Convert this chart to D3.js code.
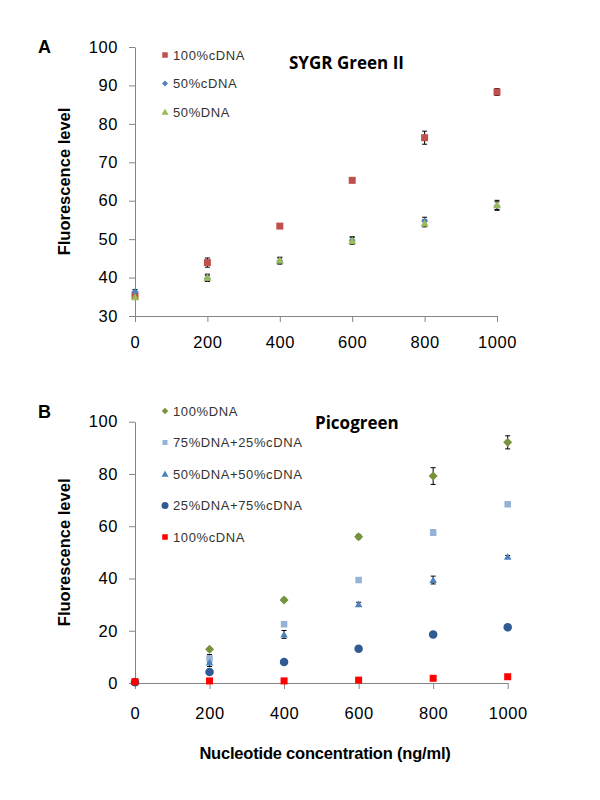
<!DOCTYPE html>
<html>
<head>
<meta charset="utf-8">
<script src="https://cdn.jsdelivr.net/npm/d3@7"></script>
<style>
  body { margin: 0; background: #fff; }
  svg { display: block; }
  .tick text { font-family: "Liberation Sans", Arial, sans-serif; }
</style>
</head>
<body>
<svg id="chart" width="600" height="800"></svg>
<script>
// concentrations (ng/ml)
var conc = [0, 200, 400, 600, 800, 1000]

// panel A - SYGR Green II
var aTicksY = [30, 40, 50, 60, 70, 80, 90, 100]
var aCdna100 = [35.3, 43.9, 53.4, 65.3, 76.4, 88.3]
var aCdna100Err = [0.5, 1.2, 0.4, 0.4, 1.7, 0.9]
var aCdna50 = [36.3, 39.8, 44.3, 49.7, 54.7, 58.6]
var aCdna50Err = [0.6, 0.8, 0.8, 0.9, 1.0, 1.1]
var aDna50 = [34.9, 40.0, 44.5, 49.6, 54.1, 58.9]
var aDna50Err = [0.5, 0.9, 0.8, 0.9, 0.9, 1.2]

// panel B - Picogreen
var bTicksY = [0, 20, 40, 60, 80, 100]
var bDna100 = [0.5, 12.9, 31.8, 56.0, 79.2, 92.1]
var bDna100Err = [0.3, 0.5, 0.6, 0.8, 3.2, 2.5]
var bDna75 = [0.5, 9.4, 22.5, 39.4, 57.5, 68.4]
var bDna75Err = [0.2, 1.5, 0.8, 0.6, 1.0, 0.5]
var bDna50 = [0.4, 7.8, 18.6, 30.1, 39.4, 48.3]
var bDna50Err = [0.2, 1.5, 1.5, 0.8, 1.5, 0.5]
var bDna25 = [0.3, 4.2, 8.0, 13.1, 18.6, 21.3]
var bDna25Err = [0.1, 0.3, 0.4, 0.4, 0.5, 0.5]
var bCdna100 = [0.5, 0.8, 0.8, 1.1, 1.8, 2.4]
var bCdna100Err = [0.1, 0.2, 0.2, 0.2, 0.3, 0.3]

var AXIS_COLOR = "#868686"
var svg = d3.select("#chart")

var panels = [
	{
		letter: "A", title: "SYGR Green II",
		x0: 135, x1: 497, yTop: 47, yBot: 316, domainY: [30, 100], ticksY: aTicksY,
		xLabelPad: 14, letterY: 53, titleX: 289, titleY: 69,
		legendY: 55, legendStep: 28.5,
		series: [
			{ name: "100%cDNA", values: aCdna100, err: aCdna100Err, shape: "square", color: "#C0504D", size: 7, lsize: 5.5 },
			{ name: "50%cDNA", values: aCdna50, err: aCdna50Err, shape: "diamond", color: "#4F81BD", size: 7, lsize: 6 },
			{ name: "50%DNA", values: aDna50, err: aDna50Err, shape: "triangle", color: "#9BBB59", size: 8, lsize: 7 }
		]
	},
	{
		letter: "B", title: "Picogreen",
		x0: 135, x1: 507.7, yTop: 421.7, yBot: 683, domainY: [0, 100], ticksY: bTicksY,
		xLabelPad: 18, letterY: 418, titleX: 315, titleY: 429,
		legendY: 411, legendStep: 31.5,
		series: [
			{ name: "100%DNA", values: bDna100, err: bDna100Err, shape: "diamond", color: "#77933C", size: 9, lsize: 6.5 },
			{ name: "75%DNA+25%cDNA", values: bDna75, err: bDna75Err, shape: "square", color: "#95B3D7", size: 6.5, lsize: 5 },
			{ name: "50%DNA+50%cDNA", values: bDna50, err: bDna50Err, shape: "triangle", color: "#4F81BD", size: 7.5, lsize: 7 },
			{ name: "25%DNA+75%cDNA", values: bDna25, err: bDna25Err, shape: "circle", color: "#2F5A92", size: 8.5, lsize: 7 },
			{ name: "100%cDNA", values: bCdna100, err: bCdna100Err, shape: "square", color: "#FF0000", size: 7, lsize: 5.5 }
		]
	}
]

// draw a marker of side/diameter s centred at (cx, cy)
function marker(g, shape, cx, cy, s, color) {
	if (shape === "square") {
		g.append("rect").attr("x", cx - s / 2).attr("y", cy - s / 2)
			.attr("width", s).attr("height", s).attr("fill", color)
	} else if (shape === "circle") {
		g.append("circle").attr("cx", cx).attr("cy", cy).attr("r", s / 2).attr("fill", color)
	} else if (shape === "diamond") {
		var h = s / 2
		g.append("path").attr("d", "M" + cx + "," + (cy - h) + "L" + (cx + h) + "," + cy +
			"L" + cx + "," + (cy + h) + "L" + (cx - h) + "," + cy + "Z").attr("fill", color)
	} else {
		var h2 = s / 2
		g.append("path").attr("d", "M" + cx + "," + (cy - h2) + "L" + (cx + h2) + "," + (cy + h2 * 0.8) +
			"L" + (cx - h2) + "," + (cy + h2 * 0.8) + "Z").attr("fill", color)
	}
}

panels.forEach(p => {
	var x = d3.scaleLinear().domain([0, 1000]).range([p.x0, p.x1])
	var y = d3.scaleLinear().domain(p.domainY).range([p.yBot, p.yTop])

	// axes
	var yAxis = svg.append("g")
		.attr("transform", "translate(" + p.x0 + ",0)")
		.call(d3.axisLeft(y).tickValues(p.ticksY).tickSize(6).tickSizeOuter(0).tickPadding(11))
	var xAxis = svg.append("g")
		.attr("transform", "translate(0," + p.yBot + ")")
		.call(d3.axisBottom(x).tickValues(conc).tickFormat(d3.format("d"))
			.tickSize(6).tickSizeOuter(0).tickPadding(p.xLabelPad))
	;[yAxis, xAxis].forEach(a => {
		a.select(".domain").attr("stroke", AXIS_COLOR)
		a.selectAll(".tick line").attr("stroke", AXIS_COLOR)
		a.selectAll(".tick text").attr("font-size", 16.5).attr("letter-spacing", 0.6).attr("fill", "#000")
	})

	// panel letter
	svg.append("text")
		.attr("x", 38).attr("y", p.letterY)
		.attr("font-family", "Liberation Sans, Arial, sans-serif")
		.attr("font-weight", "bold").attr("font-size", 18)
		.text(p.letter)

	// y axis title
	svg.append("text")
		.attr("transform", "translate(70," + ((p.yTop + p.yBot) / 2) + ") rotate(-90)")
		.attr("text-anchor", "middle")
		.attr("font-family", "Liberation Sans, Arial, sans-serif")
		.attr("font-weight", "bold").attr("font-size", 16.5)
		.text("Fluorescence level")

	// chart title
	svg.append("text")
		.attr("x", p.titleX).attr("y", p.titleY)
		.attr("font-family", "Open Sans, sans-serif")
		.attr("font-weight", "bold").attr("font-size", 17)
		.text(p.title)

	// error bars, then markers
	var bars = svg.append("g").attr("stroke", "#000").attr("stroke-width", 1)
	p.series.forEach(s => {
		s.values.forEach((v, i) => {
			var cx = x(conc[i])
			var ya = y(v + s.err[i]), yb = y(v - s.err[i])
			bars.append("line").attr("x1", cx).attr("x2", cx).attr("y1", ya).attr("y2", yb)
			bars.append("line").attr("x1", cx - 2.5).attr("x2", cx + 2.5).attr("y1", ya).attr("y2", ya)
			bars.append("line").attr("x1", cx - 2.5).attr("x2", cx + 2.5).attr("y1", yb).attr("y2", yb)
		})
	})
	var marks = svg.append("g")
	p.series.forEach(s => {
		s.values.forEach((v, i) => marker(marks, s.shape, x(conc[i]), y(v), s.size, s.color))
	})

	// legend
	var legend = svg.append("g")
	p.series.forEach((s, i) => {
		var ly = p.legendY + i * p.legendStep
		marker(legend, s.shape, 165, ly, s.lsize, s.color)
		legend.append("text")
			.attr("x", 173).attr("y", ly).attr("dy", "0.35em")
			.attr("font-family", "Liberation Sans, Arial, sans-serif")
			.attr("font-size", 13).attr("letter-spacing", 0.6).attr("fill", "#333")
			.text(s.name)
	})
})

// x axis title (shared, below panel B)
svg.append("text")
	.attr("x", 325).attr("y", 759)
	.attr("text-anchor", "middle")
	.attr("font-family", "Liberation Sans, Arial, sans-serif")
	.attr("font-weight", "bold").attr("font-size", 16.5).attr("letter-spacing", -0.2)
	.text("Nucleotide concentration (ng/ml)")
</script>
</body>
</html>
